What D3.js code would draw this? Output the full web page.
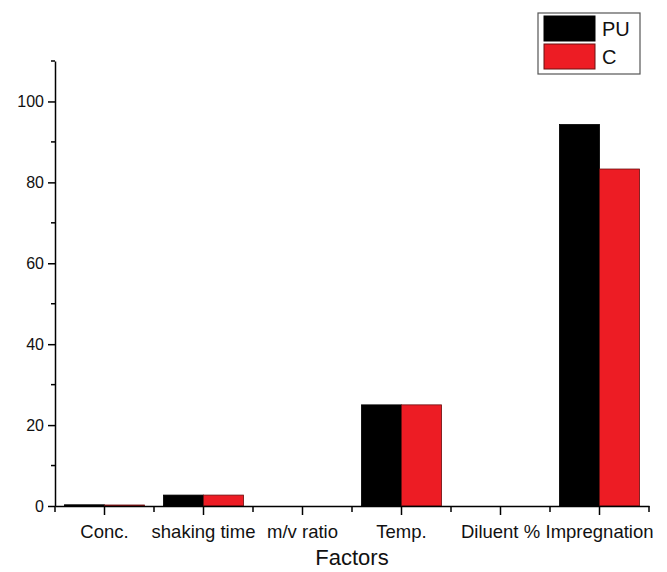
<!DOCTYPE html>
<html>
<head>
<meta charset="utf-8">
<script src="https://cdn.jsdelivr.net/npm/d3@7"></script>
<style>
  body { margin: 0; background: #fff; }
  svg { display: block; font-family: "Liberation Sans", Arial, sans-serif; }
</style>
</head>
<body>
<svg id="chart" width="667" height="572"></svg>
<script>
'use strict';
let factors = ["Conc.", "shaking time", "m/v ratio", "Temp.", "Diluent %", "Impregnation"];
let puValues = [0.3, 2.7, 0, 25, 0, 94.3];
let cValues = [0.25, 2.7, 0, 25, 0, 83.3];
let seriesNames = ["PU", "C"];
let yMajorTicks = [0, 20, 40, 60, 80, 100];
let yMinorTicks = [10, 30, 50, 70, 90, 110];

let colors = {PU: "#000000", C: "#ed1c24"};
let strokes = {PU: "#000000", C: "#6a1010"};

let svg = d3.select("#chart"),
    margin = {left: 55, right: 18, top: 61, bottom: 66},
    width = +svg.attr("width"),
    height = +svg.attr("height");

let x = d3.scaleBand()
    .domain(factors)
    .range([margin.left, width - margin.right])
    .paddingInner(0.19)
    .paddingOuter(0.095);

let xs = d3.scaleBand()
    .domain(seriesNames)
    .range([0, x.bandwidth()]);

let y = d3.scaleLinear()
    .domain([0, 110])
    .range([height - margin.bottom, margin.top]);

let rows = factors.map((f, i) => ({factor: f, PU: puValues[i], C: cValues[i]}));

// bars
let g = svg.append("g");
g.selectAll("g.grp")
    .data(rows)
    .enter().append("g")
    .attr("class", "grp")
    .attr("transform", d => "translate(" + x(d.factor) + ",0)")
    .selectAll("rect")
    .data(d => seriesNames.map(k => ({key: k, value: d[k]})).filter(e => e.value > 0))
    .enter().append("rect")
    .attr("x", d => xs(d.key))
    .attr("width", xs.bandwidth())
    .attr("y", d => y(d.value))
    .attr("height", d => y(0) - y(d.value))
    .attr("fill", d => colors[d.key])
    .attr("stroke", d => strokes[d.key])
    .attr("stroke-width", 0.8);

// y axis
let yAxis = svg.append("g")
    .attr("transform", "translate(" + margin.left + ",0)");
yAxis.call(d3.axisLeft(y).tickValues(yMajorTicks).tickSize(7).tickPadding(4).tickSizeOuter(0));
yAxis.selectAll(".minor")
    .data(yMinorTicks)
    .enter().append("line")
    .attr("class", "minor")
    .attr("x1", -4).attr("x2", 0)
    .attr("y1", d => y(d)).attr("y2", d => y(d))
    .attr("stroke", "#000").attr("stroke-width", 1.5);
yAxis.selectAll("text").attr("font-size", 16).attr("fill", "#111");

// x axis
let xAxis = svg.append("g")
    .attr("transform", "translate(0," + y(0) + ")");
xAxis.call(d3.axisBottom(x).tickSize(9).tickPadding(10).tickSizeOuter(0));
let bounds = [margin.left].concat(factors.map(f => x(f) + x.bandwidth() + x.step() * 0.19 / 2));
xAxis.selectAll(".bound")
    .data(bounds)
    .enter().append("line")
    .attr("class", "bound")
    .attr("x1", d => d).attr("x2", d => d)
    .attr("y1", 0).attr("y2", 6)
    .attr("stroke", "#000").attr("stroke-width", 1.5);
xAxis.selectAll("text").attr("font-size", 18.5).attr("fill", "#111");

svg.selectAll(".domain, .tick line").attr("stroke", "#000").attr("stroke-width", 1.5);

// axis title
svg.append("text")
    .attr("x", (margin.left + width - margin.right) / 2)
    .attr("y", 565)
    .attr("text-anchor", "middle")
    .attr("font-size", 22)
    .attr("fill", "#111")
    .text("Factors");

// legend
let lg = svg.append("g").attr("transform", "translate(538,13)");
lg.append("rect")
    .attr("width", 102).attr("height", 61)
    .attr("fill", "#fff").attr("stroke", "#555").attr("stroke-width", 1.2);
let item = lg.selectAll("g.item")
    .data(seriesNames)
    .enter().append("g")
    .attr("class", "item")
    .attr("transform", (d, i) => "translate(6," + (3 + i * 28) + ")");
item.append("rect")
    .attr("width", 51).attr("height", 25)
    .attr("fill", d => colors[d])
    .attr("stroke", d => strokes[d]).attr("stroke-width", 1);
item.append("text")
    .attr("x", 58).attr("y", 20)
    .attr("font-size", 20)
    .attr("fill", "#111")
    .text(d => d);
</script>
</body>
</html>
